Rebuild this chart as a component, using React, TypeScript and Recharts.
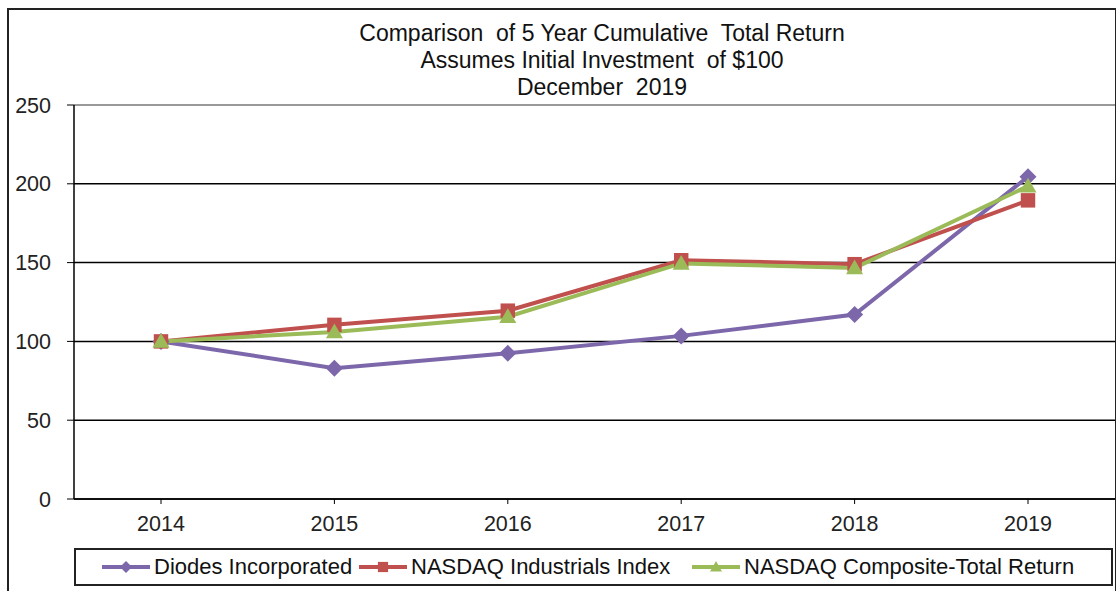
import { LineChart, Line, XAxis, YAxis, CartesianGrid, ReferenceLine } from 'recharts';

const years = ['2014', '2015', '2016', '2017', '2018', '2019'];
const diodes = [100, 83, 92.5, 103.5, 117, 204.5];
const industrials = [100, 110.5, 119.5, 151.5, 149, 189.5];
const composite = [100, 106, 115.7, 149.5, 146.6, 198.5];
const yTicks = [0, 50, 100, 150, 200, 250];
const titleLines = [
  'Comparison  of 5 Year Cumulative  Total Return',
  'Assumes Initial Investment  of $100',
  'December  2019',
];

const series = [
  { key: 'diodes', name: 'Diodes Incorporated', color: '#7D67AB', shape: 'diamond' },
  { key: 'industrials', name: 'NASDAQ Industrials Index', color: '#C0504D', shape: 'square' },
  { key: 'composite', name: 'NASDAQ Composite-Total Return', color: '#9BBB59', shape: 'triangle' },
];
// left edge of each legend entry inside the legend box
const legendLefts = [24, 281, 614];

const data = years.map((y, i) => ({
  year: y,
  diodes: diodes[i],
  industrials: industrials[i],
  composite: composite[i],
}));

const font = '"Liberation Sans", Arial, sans-serif';

const Marker = ({ cx, cy, color, shape, r }: any) => {
  if (cx == null || cy == null) return null;
  if (shape === 'diamond') {
    return <polygon points={`${cx},${cy - r} ${cx + r},${cy} ${cx},${cy + r} ${cx - r},${cy}`} fill={color} />;
  }
  if (shape === 'square') {
    const s = r * 0.85;
    return <rect x={cx - s} y={cy - s} width={s * 2} height={s * 2} fill={color} />;
  }
  return <polygon points={`${cx},${cy - r} ${cx + r},${cy + r * 0.75} ${cx - r},${cy + r * 0.75}`} fill={color} />;
};

const App = () => {
  return (
    <div style={{ position: 'absolute', left: 0, top: 0, width: 1116, height: 591, background: '#fff', fontFamily: font }}>
      <div style={{ position: 'absolute', left: 7, top: 8, width: 1106, height: 600, border: '2px solid #222' }} />
      {titleLines.map((t, i) => (
        <div key={i} style={{ position: 'absolute', left: 302, width: 600, top: 20 + i * 27, textAlign: 'center', fontSize: 23, lineHeight: '27px', color: '#111', whiteSpace: 'pre' }}>
          {t}
        </div>
      ))}
      <div style={{ position: 'absolute', left: 0, top: 0 }}>
        <LineChart width={1116} height={591} data={data} margin={{ top: 105, right: 1, bottom: 52, left: 0 }}>
          <CartesianGrid vertical={false} stroke="#000" strokeWidth={1.5} />
          <ReferenceLine y={250} stroke="#999" strokeWidth={2} />
          <XAxis
            dataKey="year"
            height={40}
            padding={{ left: 87, right: 87 }}
            tickSize={5}
            tickMargin={12}
            stroke="#000"
            axisLine={{ stroke: '#000', strokeWidth: 1.5 }}
            tick={{ fill: '#222', fontSize: 21.5, fontFamily: font }}
          />
          <YAxis
            width={74}
            domain={[0, 250]}
            ticks={yTicks}
            tickSize={7}
            tickMargin={16}
            stroke="#000"
            axisLine={{ stroke: '#000', strokeWidth: 1.5 }}
            tick={{ fill: '#222', fontSize: 21.5, fontFamily: font }}
          />
          {series.map((s) => (
            <Line
              key={s.key}
              dataKey={s.key}
              name={s.name}
              stroke={s.color}
              strokeWidth={4}
              type="linear"
              isAnimationActive={false}
              dot={(p: any) => <Marker key={`${s.key}-${p.index}`} cx={p.cx} cy={p.cy} color={s.color} shape={s.shape} r={8.5} />}
              activeDot={false}
            />
          ))}
        </LineChart>
      </div>
      <div style={{ position: 'absolute', left: 74, top: 548, width: 1035, height: 34, border: '2px solid #222', fontSize: 22, color: '#111' }}>
        {series.map((s, i) => (
          <div key={s.key} style={{ position: 'absolute', left: legendLefts[i], top: 0, height: 34, display: 'flex', alignItems: 'center', whiteSpace: 'nowrap' }}>
            <svg width={52} height={20}>
              <line x1={2} y1={10} x2={50} y2={10} stroke={s.color} strokeWidth={4} />
              <Marker cx={26} cy={10} color={s.color} shape={s.shape} r={6} />
            </svg>
            <span style={{ marginLeft: 2 }}>{s.name}</span>
          </div>
        ))}
      </div>
    </div>
  );
};

export default App;
